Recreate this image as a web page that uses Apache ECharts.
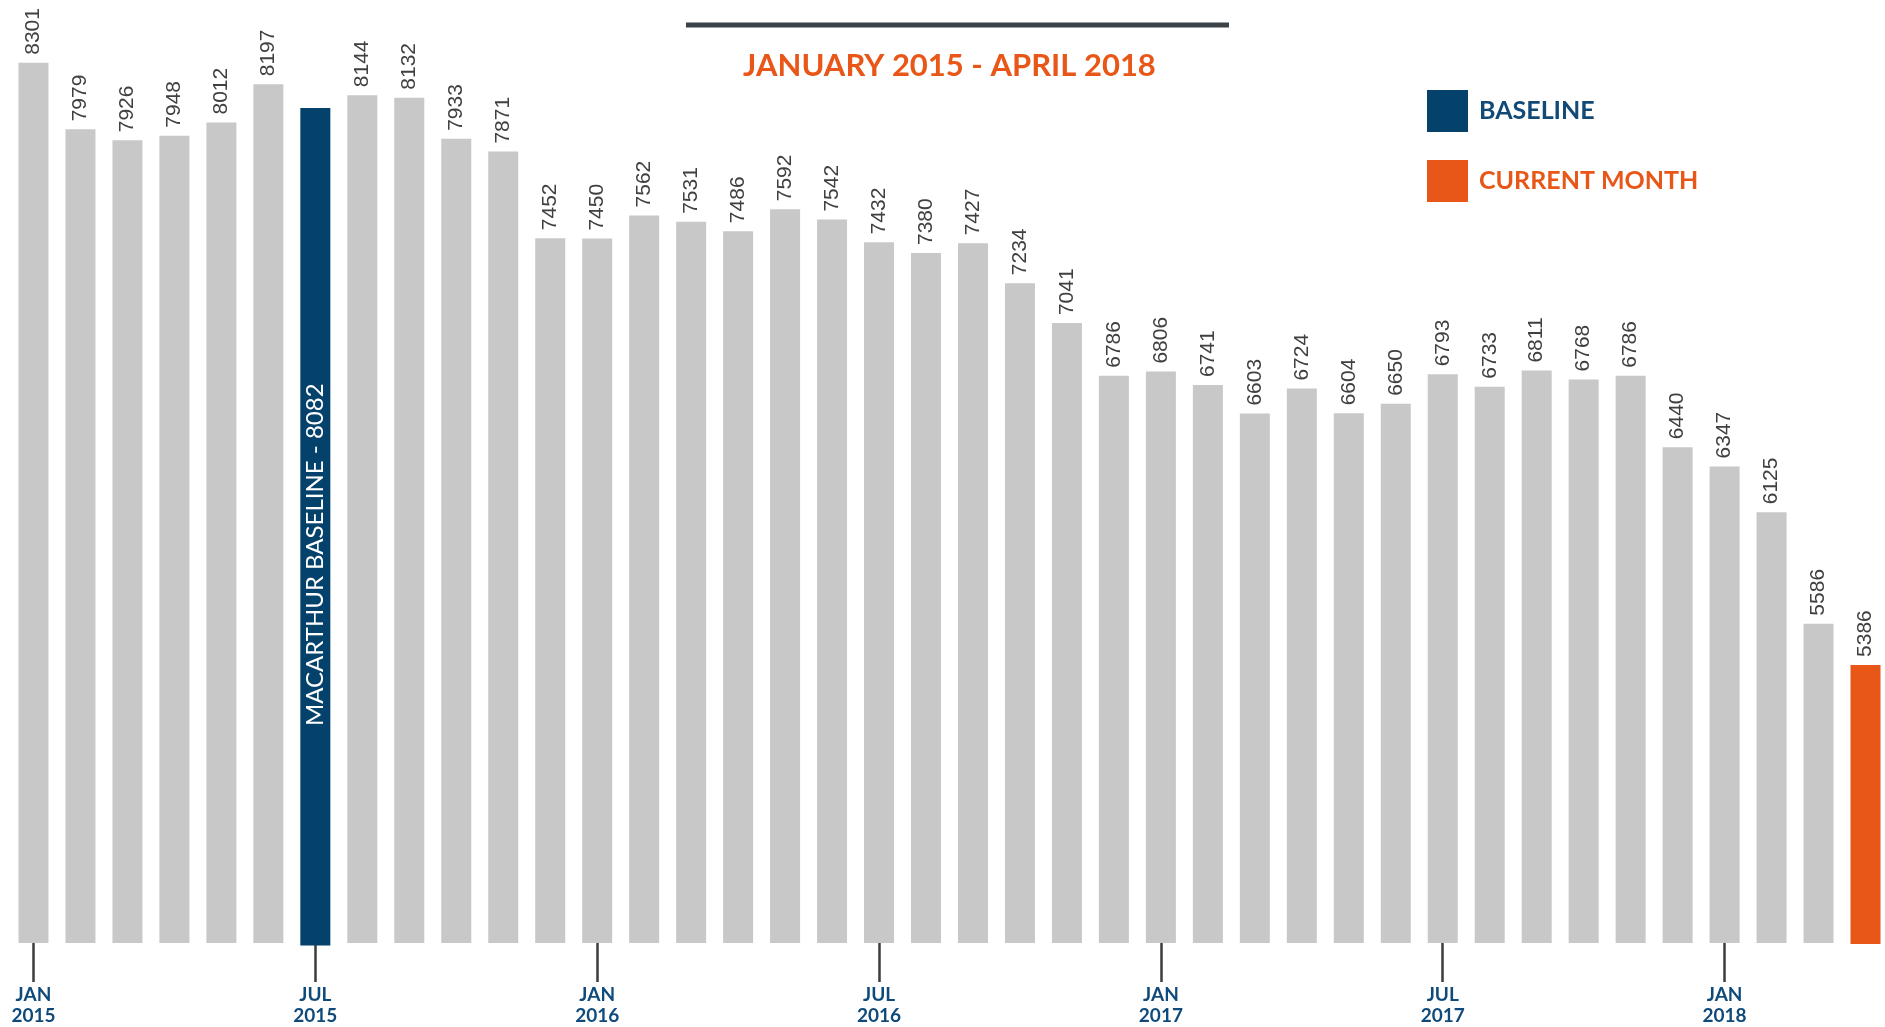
<!DOCTYPE html>
<html>
<head>
<meta charset="utf-8">
<script src="https://cdn.jsdelivr.net/npm/echarts@6/dist/echarts.min.js"></script>
<style>
  html, body { margin: 0; padding: 0; background: #ffffff; }
  #chart { width: 1885px; height: 1027px; }
</style>
</head>
<body>
<div id="chart"></div>
<script>
// ---- data ----
const months = [
  "2015-01","2015-02","2015-03","2015-04","2015-05","2015-06","2015-07","2015-08","2015-09","2015-10","2015-11","2015-12",
  "2016-01","2016-02","2016-03","2016-04","2016-05","2016-06","2016-07","2016-08","2016-09","2016-10","2016-11","2016-12",
  "2017-01","2017-02","2017-03","2017-04","2017-05","2017-06","2017-07","2017-08","2017-09","2017-10","2017-11","2017-12",
  "2018-01","2018-02","2018-03","2018-04"
];
const counts = [
  8301, 7979, 7926, 7948, 8012, 8197, 8082, 8144, 8132, 7933, 7871, 7452,
  7450, 7562, 7531, 7486, 7592, 7542, 7432, 7380, 7427, 7234, 7041, 6786,
  6806, 6741, 6603, 6724, 6604, 6650, 6793, 6733, 6811, 6768, 6786, 6440,
  6347, 6125, 5586, 5386
];
const tickLabels = {
  "2015-01": "JAN\n2015", "2015-07": "JUL\n2015",
  "2016-01": "JAN\n2016", "2016-07": "JUL\n2016",
  "2017-01": "JAN\n2017", "2017-07": "JUL\n2017",
  "2018-01": "JAN\n2018"
};
const baselineMonth = "2015-07";
const currentMonth = "2018-04";
const subtitleText = "JANUARY 2015 - APRIL 2018";
const baselineName = "BASELINE";
const currentName = "CURRENT MONTH";
const baselineLabelPrefix = "MACARTHUR BASELINE - ";

// ---- styles ----
const GRAY = "#c8c8c8";
const BLUE = "#04416b";
const ORANGE = "#e85718";
const LABEL_BLUE = "#0f4a7a";

const bIdx = months.indexOf(baselineMonth);
const cIdx = months.indexOf(currentMonth);

const grayData = counts.map((v, i) => (i === bIdx || i === cIdx) ? '-' : v);
const baseData = counts.map((v, i) => i === bIdx ? v : '-');
const curData = counts.map((v, i) => i === cIdx ? v : '-');

const valueLabel = {
  show: true,
  position: 'top',
  rotate: 90,
  align: 'left',
  verticalAlign: 'middle',
  distance: 8,
  fontFamily: 'Liberation Sans',
  fontSize: 21,
  color: '#404040'
};

const chart = echarts.init(document.getElementById('chart'), null, { renderer: 'canvas' });
chart.setOption({
  backgroundColor: '#ffffff',
  animation: false,
  title: {
    text: subtitleText,
    left: 743,
    top: 50,
    padding: 0,
    textStyle: { fontFamily: 'Lato', fontWeight: 'bold', fontSize: 31, color: ORANGE }
  },
  graphic: [
    { type: 'line', shape: { x1: 686, y1: 25, x2: 1229, y2: 25 }, style: { stroke: '#3b4248', lineWidth: 5 } }
  ],
  legend: {
    data: [
      { name: baselineName, textStyle: { color: '#114a77' } },
      { name: currentName, textStyle: { color: ORANGE } }
    ],
    orient: 'vertical',
    left: 1427,
    top: 90,
    padding: 0,
    icon: 'rect',
    itemWidth: 39,
    itemHeight: 40,
    itemGap: 28,
    textStyle: { fontFamily: 'Lato', fontWeight: 'bold', fontSize: 25, padding: [0, 0, 0, 7] }
  },
  grid: { left: 10, right: -4, top: 0, bottom: 84, containLabel: false, outerBoundsMode: 'none' },
  xAxis: {
    type: 'category',
    data: months,
    boundaryGap: true,
    axisLine: { show: false },
    axisTick: {
      show: true,
      alignWithLabel: true,
      interval: (i, v) => tickLabels[v] !== undefined,
      length: 39,
      lineStyle: { color: '#3d3d3d', width: 2.5 }
    },
    axisLabel: {
      show: true,
      interval: (i, v) => tickLabels[v] !== undefined,
      formatter: v => tickLabels[v] || '',
      margin: 41,
      fontFamily: 'Lato',
      fontWeight: 'bold',
      fontSize: 19,
      lineHeight: 21,
      color: LABEL_BLUE
    },
    splitLine: { show: false }
  },
  yAxis: {
    type: 'value',
    min: 4040,
    max: 8605,
    show: false,
    splitLine: { show: false }
  },
  series: [
    {
      name: 'MONTHLY',
      type: 'bar',
      data: grayData,
      barWidth: 30,
      barGap: '-100%',
      itemStyle: { color: GRAY },
      label: valueLabel
    },
    {
      name: baselineName,
      type: 'bar',
      data: baseData,
      barWidth: 30,
      barGap: '-100%',
      itemStyle: { color: BLUE, borderColor: BLUE, borderWidth: 5 },
      label: {
        show: true,
        position: 'inside',
        rotate: 90,
        offset: [-28, 0],
        formatter: p => baselineLabelPrefix + p.value,
        fontFamily: 'Lato',
        fontSize: 24,
        color: '#ffffff'
      }
    },
    {
      name: currentName,
      type: 'bar',
      data: curData,
      barWidth: 30,
      barGap: '-100%',
      itemStyle: { color: ORANGE, borderColor: ORANGE, borderWidth: 2 },
      label: valueLabel
    }
  ]
});
</script>
</body>
</html>
